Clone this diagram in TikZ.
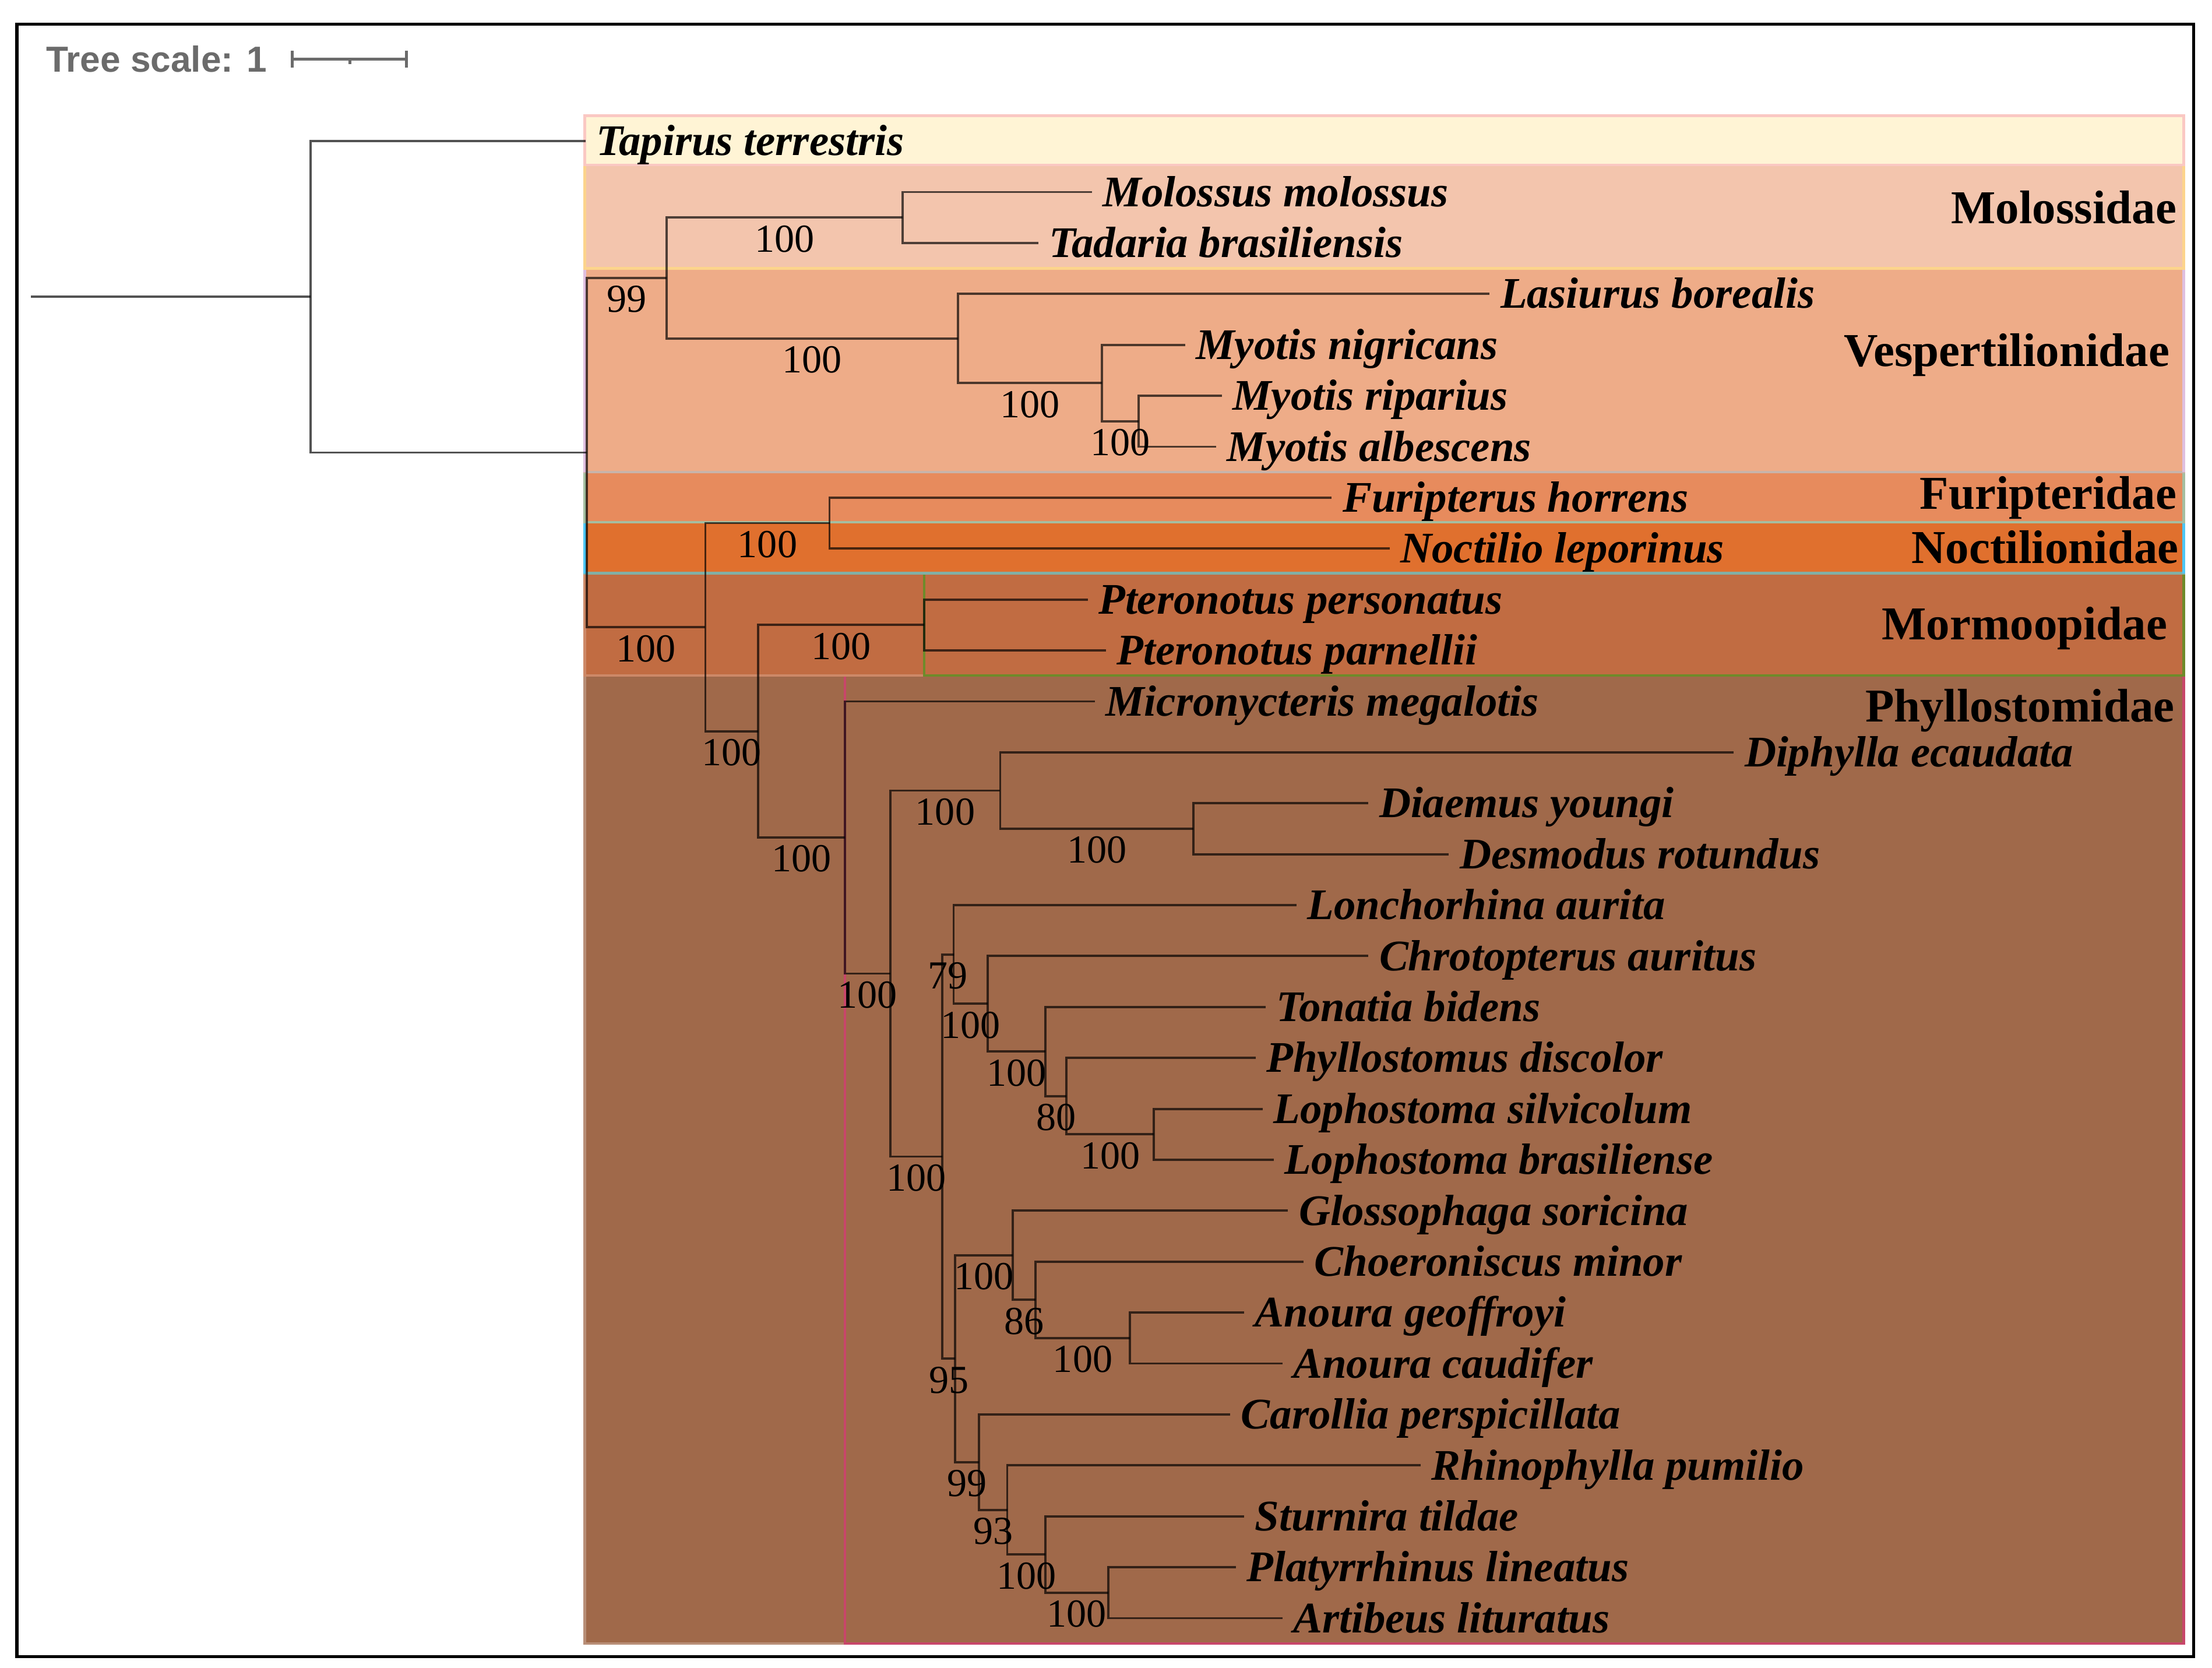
\documentclass[tikz,border=0pt]{standalone}
\usepackage{fontspec}
\setmainfont{Liberation Serif}
\newfontfamily\treescalefont{Liberation Sans}
\usepackage{tikz}
\definecolor{tapircol}{RGB}{255,244,213}
\definecolor{tapirline}{RGB}{250,200,195}
\definecolor{molosscol}{RGB}{243,197,173}
\definecolor{molossline}{RGB}{252,212,140}
\definecolor{vespcol}{RGB}{238,172,136}
\definecolor{vespline}{RGB}{200,180,170}
\definecolor{furicol}{RGB}{231,139,93}
\definecolor{furiline}{RGB}{165,190,160}
\definecolor{noctcol}{RGB}{224,112,46}
\definecolor{noctline}{RGB}{130,175,165}
\definecolor{mormcol}{RGB}{193,108,66}
\definecolor{mormline}{RGB}{110,139,42}
\definecolor{phylcol}{RGB}{160,105,74}
\definecolor{phylline}{RGB}{200,70,106}
\definecolor{scalegray}{RGB}{107,107,107}

\begin{document}
\begin{tikzpicture}[x=0.01cm,y=-0.01cm,
  branch/.style={draw=black,draw opacity=0.68,line width=0.45pt},
  taxon/.style={anchor=west,font=\fontsize{8.8}{10}\selectfont\bfseries\itshape,text height=5.8pt,text depth=0pt,inner xsep=2pt,inner ysep=0pt},
  family/.style={anchor=east,font=\fontsize{9.5}{11}\selectfont\bfseries,text height=6.3pt,text depth=0pt,inner sep=0pt},
  boot/.style={below,pos=0.75,font=\fontsize{8}{9}\selectfont,text height=5.4pt,text depth=0pt,inner xsep=0pt,inner ysep=1.3pt},
  band/.style={line width=0.5pt}]
\useasboundingbox (0,0) rectangle (1568,1182);
\draw[line width=0.6pt] (12,17) rectangle (1555,1174);

% Tree scale
\node[anchor=west,inner sep=0pt,text=scalegray,font=\treescalefont\fontsize{7.3}{8}\selectfont\bfseries] (scale) at (32,42) {Tree scale: 1};
\draw[scalegray,line width=0.6pt] (207,42) -- (288,42);
\draw[scalegray,line width=0.6pt] (207,36) -- (207,48);
\draw[scalegray,line width=0.6pt] (288,36) -- (288,48);
\draw[scalegray,line width=0.6pt] (248,42) -- (248,45.5);

% Family bands (lowest first, so each upper border stays on top)
\draw[band,fill=phylcol,draw=phylcol!75!white] (414.5,478.7) rectangle (1548,1165);
\draw[band,draw=phylline] (599,478.7) rectangle (1548,1165);
\draw[band,fill=mormcol,draw=mormcol!80!white] (414.5,406.3) rectangle (1548,478.7);
\draw[band,draw=mormline] (655,406.3) rectangle (1548,478.7);
\draw[band,fill=noctcol,draw=noctline] (414.5,370) rectangle (1548,406.3);
\draw[band,draw=cyan!70!white] (414.5,370) -- (414.5,406.3) (1548,370) -- (1548,406.3);
\draw[band,fill=furicol,draw=furiline] (414.5,334.6) rectangle (1548,370);
\draw[band,fill=vespcol,draw=vespline] (414.5,190.2) rectangle (1548,334.6);
\draw[band,draw=violet!25!white] (414.5,190.2) -- (414.5,334.6) (1548,190.2) -- (1548,334.6);
\draw[band,fill=molosscol,draw=molossline] (414.5,117) rectangle (1548,190.2);
\draw[band,fill=tapircol,draw=tapirline] (414.5,82) rectangle (1548,117);

% Taxa
\node[taxon] (tap) at (415,100) {Tapirus terrestris};
\node[taxon] (mol) at (774,136.1) {Molossus molossus};
\node[taxon] (tad) at (736,172.2) {Tadaria brasiliensis};
\node[taxon] (las) at (1056,208.3) {Lasiurus borealis};
\node[taxon] (myn) at (840,244.4) {Myotis nigricans};
\node[taxon] (myr) at (866,280.5) {Myotis riparius};
\node[taxon] (mya) at (862,316.6) {Myotis albescens};
\node[taxon] (fur) at (944,352.7) {Furipterus horrens};
\node[taxon] (noc) at (985,388.8) {Noctilio leporinus};
\node[taxon] (ptp) at (771,424.9) {Pteronotus personatus};
\node[taxon] (ptn) at (784,461) {Pteronotus parnellii};
\node[taxon] (mic) at (776,497.1) {Micronycteris megalotis};
\node[taxon] (dip) at (1229,533.2) {Diphylla ecaudata};
\node[taxon] (dia) at (970,569.3) {Diaemus youngi};
\node[taxon] (des) at (1027,605.4) {Desmodus rotundus};
\node[taxon] (lon) at (919,641.5) {Lonchorhina aurita};
\node[taxon] (chr) at (970,677.6) {Chrotopterus auritus};
\node[taxon] (ton) at (897,713.7) {Tonatia bidens};
\node[taxon] (phy) at (890,749.8) {Phyllostomus discolor};
\node[taxon] (los) at (895,785.9) {Lophostoma silvicolum};
\node[taxon] (lob) at (903,822) {Lophostoma brasiliense};
\node[taxon] (glo) at (913,858.1) {Glossophaga soricina};
\node[taxon] (cho) at (924,894.2) {Choeroniscus minor};
\node[taxon] (ang) at (882,930.3) {Anoura geoffroyi};
\node[taxon] (anc) at (909,966.4) {Anoura caudifer};
\node[taxon] (car) at (872,1002.5) {Carollia perspicillata};
\node[taxon] (rhi) at (1007,1038.6) {Rhinophylla pumilio};
\node[taxon] (stu) at (882,1074.7) {Sturnira tildae};
\node[taxon] (pla) at (876,1110.8) {Platyrrhinus lineatus};
\node[taxon] (art) at (909,1146.9) {Artibeus lituratus};

% Internal nodes
\coordinate (base) at (22,210.4);
\coordinate (root) at (220,210.4);
\coordinate (bats) at (416,320.75);
\coordinate (mv) at (472.5,197);
\coordinate (moloss) at (640,154.15);
\coordinate (vesp) at (679,239.9);
\coordinate (myo) at (781,271.5);
\coordinate (myo2) at (807,298.55);
\coordinate (yango) at (500,444.5);
\coordinate (furnoc) at (588,370.75);
\coordinate (mp) at (537.5,518.25);
\coordinate (mormo) at (655,442.95);
\coordinate (phyl) at (599,593.55);
\coordinate (ph1) at (631,690);
\coordinate (vamp) at (709,560.3);
\coordinate (vamp2) at (846,587.35);
\coordinate (ph2) at (668,819.75);
\coordinate (ph3) at (676,676.5);
\coordinate (ph4) at (700,711.45);
\coordinate (ph5) at (741,745.3);
\coordinate (ph6) at (756,776.9);
\coordinate (loph) at (818,803.95);
\coordinate (ph7) at (677,963);
\coordinate (glos) at (718,889.7);
\coordinate (glos2) at (734,921.3);
\coordinate (anou) at (801,948.35);
\coordinate (ph8) at (694,1036.35);
\coordinate (ph9) at (714,1070.2);
\coordinate (ph10) at (741,1101.8);
\coordinate (stenod) at (785.5,1128.85);

% Branches
\draw[branch] (base) -- (root);
\draw[branch] (root) |- (tap.west);
\draw[branch] (root) |- (bats);
\draw[branch] (bats) |- (mv) node[boot] {99};
\draw[branch] (bats) |- (yango) node[boot] {100};
\draw[branch] (mv) |- (moloss) node[boot] {100};
\draw[branch] (mv) |- (vesp) node[boot] {100};
\draw[branch] (moloss) |- (mol.west);
\draw[branch] (moloss) |- (tad.west);
\draw[branch] (vesp) |- (las.west);
\draw[branch] (vesp) |- (myo) node[boot] {100};
\draw[branch] (myo) |- (myn.west);
\draw[branch] (myo) |- (myo2) node[boot] {100};
\draw[branch] (myo2) |- (myr.west);
\draw[branch] (myo2) |- (mya.west);
\draw[branch] (yango) |- (furnoc) node[boot] {100};
\draw[branch] (yango) |- (mp) node[boot] {100};
\draw[branch] (furnoc) |- (fur.west);
\draw[branch] (furnoc) |- (noc.west);
\draw[branch] (mp) |- (mormo) node[boot] {100};
\draw[branch] (mp) |- (phyl) node[boot] {100};
\draw[branch] (mormo) |- (ptp.west);
\draw[branch] (mormo) |- (ptn.west);
\draw[branch] (phyl) |- (mic.west);
\draw[branch] (phyl) |- (ph1) node[boot] {100};
\draw[branch] (ph1) |- (vamp) node[boot] {100};
\draw[branch] (ph1) |- (ph2) node[boot] {100};
\draw[branch] (vamp) |- (dip.west);
\draw[branch] (vamp) |- (vamp2) node[boot] {100};
\draw[branch] (vamp2) |- (dia.west);
\draw[branch] (vamp2) |- (des.west);
\draw[branch] (ph2) |- (ph3) node[boot] {79};
\draw[branch] (ph2) |- (ph7) node[boot] {95};
\draw[branch] (ph3) |- (lon.west);
\draw[branch] (ph3) |- (ph4) node[boot] {100};
\draw[branch] (ph4) |- (chr.west);
\draw[branch] (ph4) |- (ph5) node[boot] {100};
\draw[branch] (ph5) |- (ton.west);
\draw[branch] (ph5) |- (ph6) node[boot] {80};
\draw[branch] (ph6) |- (phy.west);
\draw[branch] (ph6) |- (loph) node[boot] {100};
\draw[branch] (loph) |- (los.west);
\draw[branch] (loph) |- (lob.west);
\draw[branch] (ph7) |- (glos) node[boot] {100};
\draw[branch] (ph7) |- (ph8) node[boot] {99};
\draw[branch] (glos) |- (glo.west);
\draw[branch] (glos) |- (glos2) node[boot] {86};
\draw[branch] (glos2) |- (cho.west);
\draw[branch] (glos2) |- (anou) node[boot] {100};
\draw[branch] (anou) |- (ang.west);
\draw[branch] (anou) |- (anc.west);
\draw[branch] (ph8) |- (car.west);
\draw[branch] (ph8) |- (ph9) node[boot] {93};
\draw[branch] (ph9) |- (rhi.west);
\draw[branch] (ph9) |- (ph10) node[boot] {100};
\draw[branch] (ph10) |- (stu.west);
\draw[branch] (ph10) |- (stenod) node[boot] {100};
\draw[branch] (stenod) |- (pla.west);
\draw[branch] (stenod) |- (art.west);

% Family names
\node[family] (fmol) at (1543.5,147.4) {Molossidae};
\node[family] (fves) at (1538.5,248.7) {Vespertilionidae};
\node[family] (ffur) at (1543.5,349.6) {Furipteridae};
\node[family] (fnoc) at (1545,388.3) {Noctilionidae};
\node[family] (fmor) at (1537,442.4) {Mormoopidae};
\node[family] (fphy) at (1542,500.5) {Phyllostomidae};
\end{tikzpicture}
\end{document}
